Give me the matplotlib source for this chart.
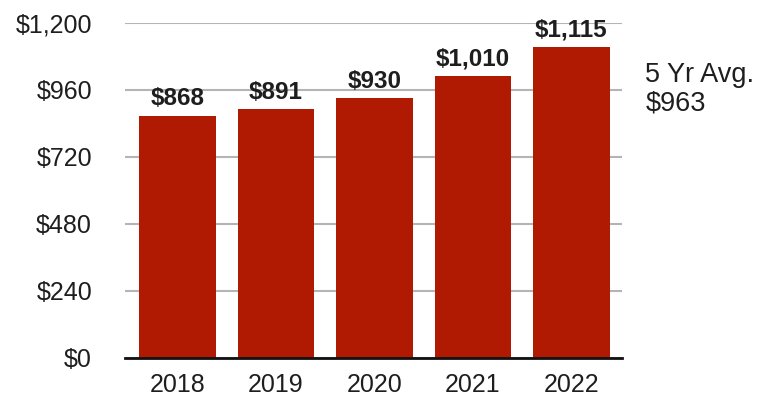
import numpy as np
import matplotlib.pyplot as plt

plt.rcParams['font.family'] = ['Liberation Sans', 'DejaVu Sans']

# Average cost per year
years = ['2018', '2019', '2020', '2021', '2022']
costs = [868, 891, 930, 1010, 1115]
value_labels = ['$868', '$891', '$930', '$1,010', '$1,115']
yticks = [0, 240, 480, 720, 960, 1200]
ytick_labels = ['$0', '$240', '$480', '$720', '$960', '$1,200']
avg_label = '5 Yr Avg.\n$963'

bar_color = '#b11a02'
text_color = '#1e1e1e'

fig = plt.figure(figsize=(7.6, 3.96), dpi=100)
ax = fig.add_axes([0.165, 0.096, 0.653, 0.846])

x = np.arange(len(years))
bars = ax.bar(x, costs, width=0.78, color=bar_color, zorder=2)

for b, lab in zip(bars, value_labels):
    ax.annotate(lab, (b.get_x() + b.get_width() / 2, b.get_height()),
                xytext=(0, 4), textcoords='offset points',
                ha='center', va='bottom', fontsize=17.5, fontweight='bold',
                color=text_color, zorder=3)

ax.set_xlim(-0.53, 4.51)
ax.set_ylim(0, 1200)
ax.set_yticks(yticks)
ax.set_yticklabels(ytick_labels)
ax.set_xticks(x)
ax.set_xticklabels(years)
ax.tick_params(axis='both', length=0, labelsize=18, colors=text_color)
ax.tick_params(axis='y', pad=24)
ax.tick_params(axis='x', pad=11)

ax.yaxis.grid(True, color='#b4b4b4', linewidth=1.5, zorder=0)
ax.set_axisbelow(True)
for s in ['top', 'right', 'left']:
    ax.spines[s].set_visible(False)
ax.spines['bottom'].set_color('#111111')
ax.spines['bottom'].set_linewidth(2)
ax.spines['bottom'].set_zorder(4)

fig.text(0.849, 0.775, avg_label, ha='left', va='center', fontsize=19.5,
         color=text_color, linespacing=1.1)

fig.savefig('out.png', dpi=100)
